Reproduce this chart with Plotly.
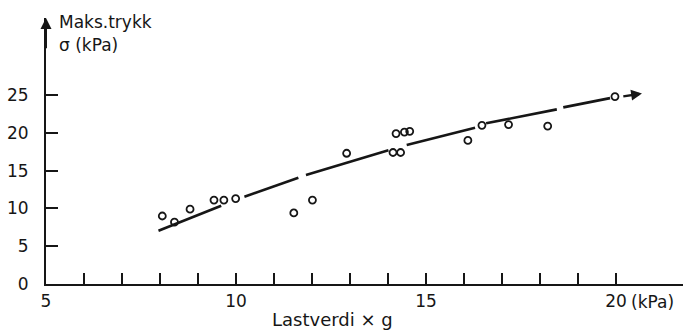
import plotly.graph_objects as go

# Measured points: load value x g (kPa) vs. maximum pressure sigma (kPa)
load_x = [8.06, 8.38, 8.79, 9.42, 9.68, 9.99, 11.52, 12.01, 12.91,
          14.13, 14.33, 14.21, 14.43, 14.57, 16.10, 16.47, 17.17, 18.20, 19.97]
sigma_y = [9.0, 8.2, 9.9, 11.1, 11.1, 11.3, 9.4, 11.1, 17.3,
           17.4, 17.4, 19.9, 20.1, 20.2, 19.0, 21.0, 21.1, 20.9, 24.8]

# Hand-drawn trend curve, drawn as broken strokes (None separates strokes)
trend_x = [7.96, 9.61, None, 10.22, 11.64, None, 11.84, 14.01, None,
           14.49, 16.29, None, 16.58, 18.44, None, 18.61, 19.84]
trend_y = [7.05, 10.36, None, 11.55, 14.06, None, 14.42, 17.70, None,
           18.39, 20.67, None, 21.26, 23.11, None, 23.37, 24.60]
# final arrow stroke of the trend curve (tail, head)
arrow_x = [20.15, 20.68]
arrow_y = [24.80, 25.20]

x_ticks = list(range(5, 21))
x_labels = ["5", "", "", "", "", "10", "", "", "", "", "15", "", "", "", "", "20"]
y_ticks = [0, 5, 10, 15, 20, 25]
y_labels = ["0", "5", "10", "15", "20", "25"]

INK = "#161616"
FONT = "DejaVu Sans"

fig = go.Figure()
fig.add_trace(go.Scatter(
    x=trend_x, y=trend_y, mode="lines", connectgaps=False,
    line=dict(color=INK, width=2.6), hoverinfo="skip", showlegend=False))
fig.add_trace(go.Scatter(
    x=load_x, y=sigma_y, mode="markers", cliponaxis=False,
    marker=dict(symbol="circle-open", size=7, color=INK, line=dict(width=1.8, color=INK)),
    showlegend=False))

annotations = [
    # trend arrow
    dict(x=arrow_x[1], y=arrow_y[1], ax=arrow_x[0], ay=arrow_y[0],
         xref="x", yref="y", axref="x", ayref="y", text="", showarrow=True,
         arrowhead=2, arrowsize=0.9, arrowwidth=2.4, arrowcolor=INK),
    # y-axis arrow
    dict(x=5, y=35.2, ax=5, ay=31, xref="x", yref="y", axref="x", ayref="y",
         text="", showarrow=True, arrowhead=2, arrowsize=1.1, arrowwidth=2.0,
         arrowcolor=INK),
    dict(x=0.0173, y=0.985, xref="paper", yref="paper", text="Maks.trykk",
         showarrow=False, xanchor="left", yanchor="middle",
         font=dict(family=FONT, size=17, color=INK)),
    dict(x=0.0173, y=0.898, xref="paper", yref="paper", text="σ (kPa)",
         showarrow=False, xanchor="left", yanchor="middle",
         font=dict(family=FONT, size=17, color=INK)),
    dict(x=0.4505, y=-0.135, xref="paper", yref="paper", text="Lastverdi × g",
         showarrow=False, xanchor="center", yanchor="middle",
         font=dict(family=FONT, size=18, color=INK)),
    dict(x=0.915, y=-0.068, xref="paper", yref="paper", text="(kPa)",
         showarrow=False, xanchor="left", yanchor="middle",
         font=dict(family=FONT, size=17, color=INK)),
]

fig.update_layout(
    width=685, height=331,
    margin=dict(l=46, r=2, t=18, b=47),
    paper_bgcolor="white", plot_bgcolor="white",
    annotations=annotations,
    xaxis=dict(range=[5, 21.76], tickvals=x_ticks, ticktext=x_labels,
               ticks="inside", ticklen=11, tickwidth=2, tickcolor=INK,
               showline=True, linewidth=2, linecolor=INK, showgrid=False,
               zeroline=False, ticklabelstandoff=1,
               tickfont=dict(family=FONT, size=17, color=INK)),
    yaxis=dict(range=[0, 35.2], tickvals=y_ticks, ticktext=y_labels,
               ticks="inside", ticklen=12, tickwidth=2, tickcolor=INK,
               showline=True, linewidth=2, linecolor=INK, showgrid=False,
               zeroline=False, ticklabelstandoff=12,
               tickfont=dict(family=FONT, size=17, color=INK)),
)

fig.write_html("out.html")
